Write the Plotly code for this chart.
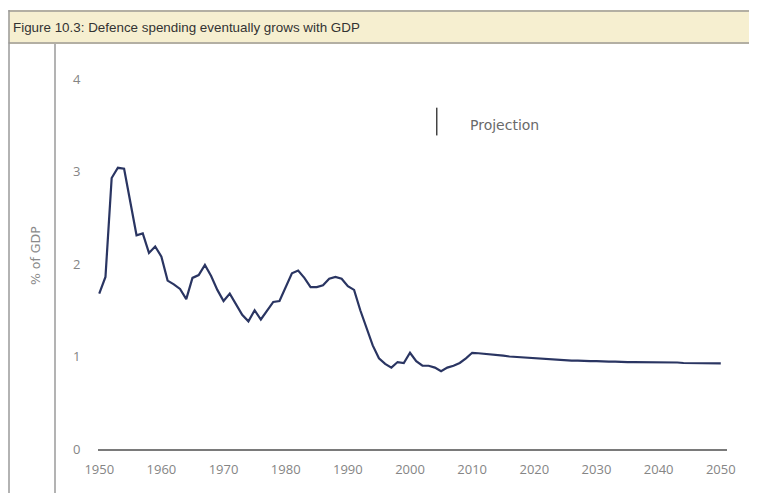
import plotly.graph_objects as go

# Defence spending, % of GDP (historical 1950-2010, projection 2011-2050)
years = list(range(1950, 2051))
historical = [1.68, 1.86, 2.93, 3.04, 3.03, 2.65, 2.31, 2.33, 2.12, 2.19,
              2.08, 1.82, 1.78, 1.73, 1.62, 1.85, 1.88, 1.99, 1.87, 1.72,
              1.60, 1.68, 1.56, 1.45, 1.38, 1.50, 1.40, 1.50, 1.59, 1.60,
              1.76, 1.90, 1.93, 1.85, 1.75, 1.75, 1.77, 1.84, 1.86, 1.84,
              1.76, 1.72, 1.50, 1.30, 1.12, 0.98, 0.92, 0.88, 0.94, 0.93,
              1.04, 0.95, 0.90, 0.90, 0.88, 0.84, 0.88, 0.90, 0.93, 0.98,
              1.04]
projection = [1.035, 1.03, 1.025, 1.02, 1.01, 1.0, 0.995, 0.99, 0.985, 0.98,
              0.975, 0.97, 0.965, 0.96, 0.96, 0.955, 0.955, 0.95, 0.95, 0.95,
              0.945, 0.945, 0.945, 0.94, 0.94, 0.94, 0.94, 0.94, 0.935, 0.935,
              0.935, 0.935, 0.935, 0.93, 0.93, 0.93, 0.93, 0.93, 0.93, 0.925]
values = historical + projection

x_ticks = [1950, 1960, 1970, 1980, 1990, 2000, 2010, 2020, 2030, 2040, 2050]
y_ticks = [0, 1, 2, 3, 4]

projection_marker_year = 2004.3

# page has an 8px body margin, so work in window pixels and shift
OFF = 8
W, H = 757, 493
L, T = 98 - OFF, 79 - OFF
PW, PH = 629, 370
R, B = W - L - PW, H - T - PH


def px(x):
    return (x - OFF - L) / PW


def py(y):
    return (T + PH - (y - OFF)) / PH


fig = go.Figure()
fig.add_trace(go.Scatter(x=years, y=values, mode='lines',
                         line=dict(color='#2a3562', width=2.2),
                         showlegend=False))

grey = '#9a9a9a'
shapes = [
    # title bar
    dict(type='rect', xref='paper', yref='paper', x0=px(8.5), x1=px(770), y0=py(43), y1=py(11),
         fillcolor='#f6efd0', line=dict(width=0), layer='below'),
    dict(type='line', xref='paper', yref='paper', x0=px(8.5), x1=px(770), y0=py(11), y1=py(11),
         line=dict(color='#b3afa3', width=2)),
    dict(type='line', xref='paper', yref='paper', x0=px(8.5), x1=px(770), y0=py(43), y1=py(43),
         line=dict(color='#b3afa3', width=2)),
    # frame lines at left
    dict(type='line', xref='paper', yref='paper', x0=px(9), x1=px(9), y0=py(10), y1=py(510),
         line=dict(color=grey, width=1.5)),
    dict(type='line', xref='paper', yref='paper', x0=px(55), x1=px(55), y0=py(44), y1=py(510),
         line=dict(color=grey, width=1.5)),
    # projection marker
    dict(type='line', xref='x', yref='y', x0=projection_marker_year, x1=projection_marker_year,
         y0=3.39, y1=3.69, line=dict(color='#444444', width=1.5)),
]

annotations = [
    dict(text='Figure 10.3: Defence spending eventually grows with GDP', xref='paper', yref='paper',
         x=px(11), y=py(27), xanchor='left', yanchor='middle', showarrow=False,
         font=dict(family='Liberation Sans, Arial, sans-serif', size=13.4, color='#333333')),
    dict(text='% of GDP', xref='paper', yref='paper', x=px(35), y=py(256), textangle=-90,
         xanchor='center', yanchor='middle', showarrow=False,
         font=dict(family='DejaVu Sans, sans-serif', size=12.5, color='#8a8a8a')),
    dict(text='Projection', xref='x', yref='y', x=2009.4, y=3.5, xanchor='left', yanchor='middle',
         showarrow=False, font=dict(family='DejaVu Sans, sans-serif', size=14, color='#6a6a6a')),
]

fig.update_layout(
    width=W, height=H,
    margin=dict(l=L, r=R, t=T, b=B, pad=0),
    paper_bgcolor='white', plot_bgcolor='white',
    shapes=shapes, annotations=annotations,
    font=dict(family='Open Sans, sans-serif', size=13, color='#858585'),
)
fig.update_xaxes(range=[1949.8, 2051], tickvals=x_ticks, showgrid=False, zeroline=False,
                 showline=True, linecolor='#7a7a7a', linewidth=2,
                 ticks='outside', ticklen=7, tickcolor='rgba(0,0,0,0)',
                 tickfont=dict(size=13, color='#858585'))
fig.update_yaxes(range=[0, 4], tickvals=y_ticks, showgrid=False, zeroline=False, showline=False,
                 ticks='outside', ticklen=14, tickcolor='rgba(0,0,0,0)',
                 tickfont=dict(size=13, color='#858585'))

fig.write_html("out.html")
